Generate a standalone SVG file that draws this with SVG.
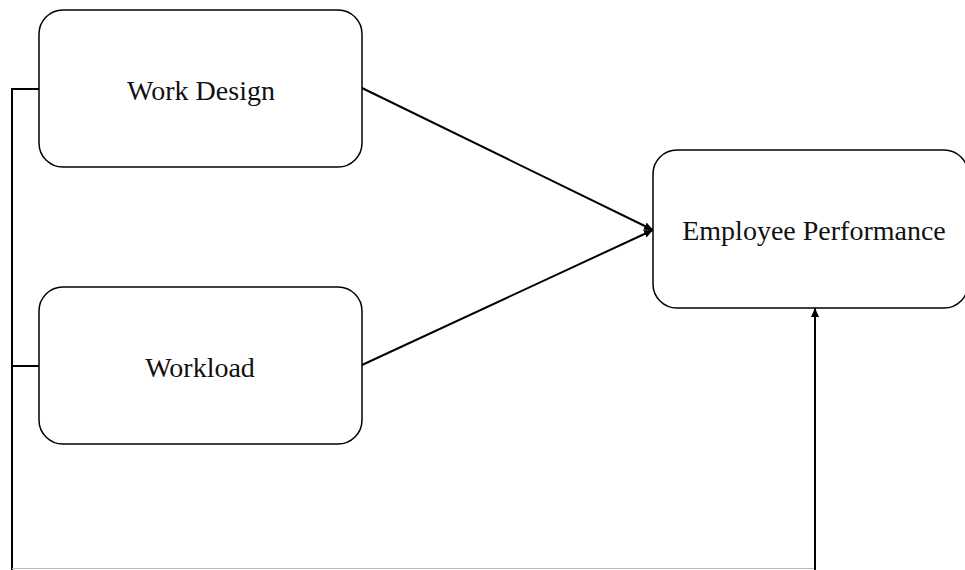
<svg xmlns="http://www.w3.org/2000/svg" width="965" height="570" viewBox="0 0 965 570">
<style>
.box{fill:#fff;stroke:#000;stroke-width:1.5}
.lbl{font-family:"Liberation Serif","Times New Roman",serif;font-size:28px;fill:#111;text-anchor:middle}
.ln{fill:none;stroke:#000;stroke-width:2}
</style>
<defs>
<marker id="ah" markerWidth="10" markerHeight="10" refX="9" refY="5" orient="auto" markerUnits="userSpaceOnUse">
<path d="M0,1 L9,5 L0,9 z" fill="#000"/>
</marker>
</defs>
<rect width="965" height="570" fill="#fff"/>
<g id="connectors">
<line class="ln" x1="362" y1="88" x2="653" y2="230" marker-end="url(#ah)"/>
<line class="ln" x1="362" y1="365" x2="653" y2="230" marker-end="url(#ah)"/>
<polyline class="ln" points="39,89 12,89 12,570"/>
<line class="ln" x1="12" y1="366" x2="39" y2="366"/>
<line x1="12" y1="568.5" x2="815" y2="568.5" stroke="#bbb" stroke-width="1"/>
<line class="ln" x1="815" y1="570" x2="815" y2="308" marker-end="url(#ah)"/>
</g>
<g id="work-design">
<rect class="box" x="39" y="10" width="323" height="157" rx="24"/>
<text class="lbl" x="201" y="100">Work Design</text>
</g>
<g id="workload">
<rect class="box" x="39" y="287" width="323" height="157" rx="24"/>
<text class="lbl" x="200" y="377">Workload</text>
</g>
<g id="employee-performance">
<rect class="box" x="653" y="150" width="315" height="158" rx="24"/>
<text class="lbl" x="814" y="240">Employee Performance</text>
</g>
</svg>
